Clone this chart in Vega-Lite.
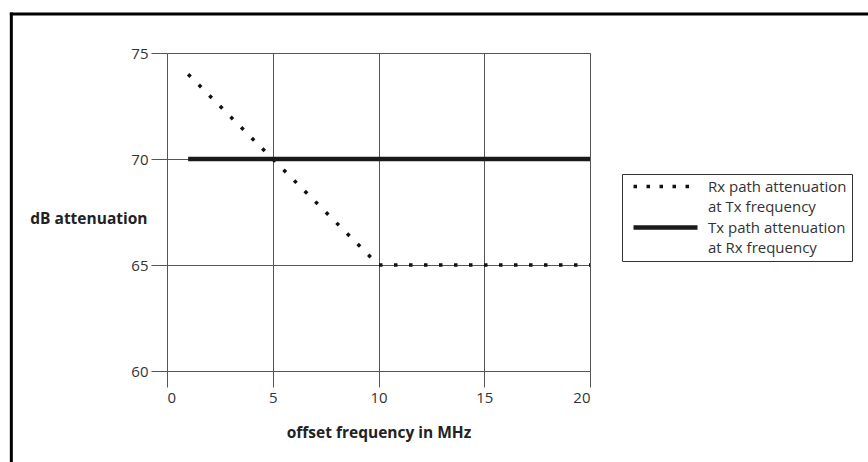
{
  "$schema": "https://vega.github.io/schema/vega-lite/v6.json",
  "autosize": "none",
  "width": 423,
  "height": 318,
  "padding": {"left": 167, "top": 53, "right": 278, "bottom": 91},
  "background": "white",
  "config": {
    "view": {"stroke": null},
    "font": "Open Sans"
  },
  "datasets": {
    "lines": [
      {"freq": 1, "db": 74, "series": "Rx path attenuation at Tx frequency"},
      {"freq": 10, "db": 65, "series": "Rx path attenuation at Tx frequency"},
      {"freq": 20, "db": 65, "series": "Rx path attenuation at Tx frequency"},
      {"freq": 1, "db": 70, "series": "Tx path attenuation at Rx frequency"},
      {"freq": 20, "db": 70, "series": "Tx path attenuation at Rx frequency"}
    ],
    "frame": [{"left": -7.36, "right": 40, "top": 76.84, "bottom": 50}]
  },
  "layer": [
    {
      "data": {"name": "frame"},
      "mark": {"type": "rule", "stroke": "#000", "strokeWidth": 3, "clip": false, "strokeCap": "square"},
      "encoding": {
        "x": {"field": "left", "type": "quantitative", "scale": {"domain": [0, 20], "nice": false, "zero": false}},
        "y": {"field": "top", "type": "quantitative", "scale": {"domain": [60, 75], "nice": false, "zero": false}},
        "y2": {"field": "bottom"}
      }
    },
    {
      "data": {"name": "frame"},
      "mark": {"type": "rule", "stroke": "#000", "strokeWidth": 3, "clip": false, "strokeCap": "square"},
      "encoding": {
        "x": {"field": "left", "type": "quantitative"},
        "x2": {"field": "right"},
        "y": {"field": "top", "type": "quantitative"}
      }
    },
    {
      "data": {"name": "lines"},
      "transform": [{"filter": "datum.series == 'Rx path attenuation at Tx frequency'"}],
      "mark": {"type": "line", "strokeCap": "butt", "strokeDash": [3.5, 11.5], "strokeWidth": 3.5},
      "encoding": {
        "x": {"field": "freq", "type": "quantitative"},
        "y": {"field": "db", "type": "quantitative"},
        "color": {"field": "series", "type": "nominal"}
      }
    },
    {
      "data": {"name": "lines"},
      "transform": [{"filter": "datum.series == 'Tx path attenuation at Rx frequency'"}],
      "mark": {"type": "line", "strokeCap": "butt", "strokeWidth": 4.5},
      "encoding": {
        "x": {
          "field": "freq", "type": "quantitative",
          "axis": {
            "values": [0, 5, 10, 15, 20],
            "title": "offset frequency in MHz",
            "domain": false,
            "grid": true, "gridColor": "#555", "gridOpacity": 1, "gridWidth": 1,
            "tickColor": "#555", "tickSize": 16, "tickWidth": 1,
            "labelFontSize": 15, "labelColor": "#333", "labelPadding": 3,
            "titleFontSize": 15.5, "titleFontWeight": "bold", "titleColor": "#222",
            "titleBaseline": "middle", "titleY": 61, "titleX": 211.5
          }
        },
        "y": {
          "field": "db", "type": "quantitative",
          "axis": {
            "values": [60, 65, 70, 75],
            "title": "dB attenuation",
            "domain": false,
            "grid": true, "gridColor": "#555", "gridOpacity": 1, "gridWidth": 1,
            "tickColor": "#555", "tickSize": 16, "tickWidth": 1,
            "labelFontSize": 15, "labelColor": "#333", "labelPadding": 3,
            "titleFontSize": 15.5, "titleFontWeight": "bold", "titleColor": "#222",
            "titleAngle": 0, "titleAlign": "right", "titleBaseline": "middle",
            "titleX": -20, "titleY": 165
          }
        },
        "color": {
          "field": "series", "type": "nominal",
          "scale": {"domain": ["Rx path attenuation at Tx frequency", "Tx path attenuation at Rx frequency"], "range": ["#111", "#1a1a1a"]},
          "legend": {
            "title": null,
            "orient": "none", "legendX": 455, "legendY": 121,
            "direction": "vertical",
            "symbolType": "stroke", "symbolSize": 4096, "symbolStrokeWidth": 4,
            "symbolOffset": 31,
            "padding": 5, "rowPadding": 3,
            "strokeColor": "#333",
            "labelFontSize": 15, "labelColor": "#333", "labelOffset": 35, "labelLimit": 300,
            "labelBaseline": "middle",
            "labelExpr": "datum.label == 'Rx path attenuation at Tx frequency' ? ['Rx path attenuation', 'at Tx frequency'] : ['Tx path attenuation', 'at Rx frequency']",
            "encode": {
              "labels": {"update": {"lineHeight": {"value": 20.5}}},
              "symbols": {
                "update": {
                  "strokeDash": {"signal": "datum.value == 'Rx path attenuation at Tx frequency' ? [3.5, 9.5] : [1, 0]"},
                  "strokeWidth": {"signal": "datum.value == 'Rx path attenuation at Tx frequency' ? 3.5 : 4.5"}
                }
              }
            }
          }
        }
      }
    }
  ]
}
